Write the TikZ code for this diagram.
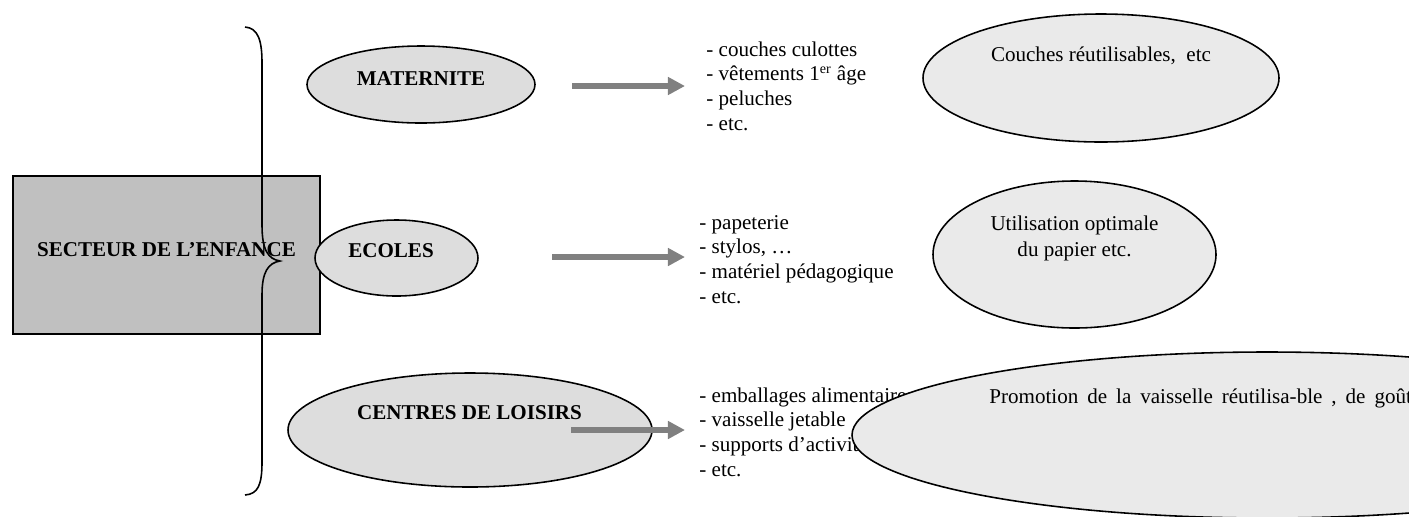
\documentclass[tikz,border=0pt]{standalone}
\usepackage{fontspec}
\setmainfont{Liberation Serif}
\usepackage{tikz}
\usetikzlibrary{positioning,shapes.geometric,arrows.meta}

\definecolor{boxgray}{HTML}{C0C0C0}
\definecolor{grpgray}{HTML}{DDDDDD}
\definecolor{actgray}{HTML}{EAEAEA}
\def\px{0.5695pt} % one pixel of the page

\begin{document}
\begin{tikzpicture}[x=\px,y=-\px,
    secteur/.style={draw,fill=boxgray,line width=0.9pt,inner sep=0pt},
    grp/.style={ellipse,draw,fill=grpgray,line width=0.9pt,inner sep=0pt},
    act/.style={ellipse,draw,fill=actgray,line width=0.9pt,inner sep=0pt},
    lbl/.style={anchor=base,inner sep=0pt,font=\fontsize{12}{14}\selectfont\bfseries},
    item/.style={anchor=base west,inner sep=0pt,font=\fontsize{12}{14}\selectfont},
    note/.style={anchor=base,inner sep=0pt,font=\fontsize{12}{14}\selectfont},
    fatarrow/.style={draw=gray,line width=3.4pt,-{Triangle[length=9.7pt,width=9.7pt]}}]
  \useasboundingbox (0,0) rectangle (1409,516);
  \clip (0,0) rectangle (1409,516);
  % main box
  \node[secteur,minimum width=307*\px,minimum height=158*\px] (sect) at (166.5,255) {};
  \node[lbl] (secttxt) at (166.5,256) {SECTEUR DE L’ENFANCE};
  % the brace
  \draw[line width=0.9pt] (245,27) .. controls (258,28) and (262,40) .. (262,63)
    -- (262,225) .. controls (262,250) and (268,259) .. (280,261)
    .. controls (268,263) and (262,272) .. (262,295)
    -- (262,462) .. controls (262,485) and (258,494) .. (245,495);
  % the three sectors
  \node[grp,minimum width=228*\px,minimum height=77*\px] (mat) at (421,84.5) {};
  \node[grp,minimum width=163*\px,minimum height=76*\px] (eco) at (396.5,258) {};
  \node[grp,minimum width=364*\px,minimum height=114*\px] (loi) at (470,430) {};
  \node[lbl] (mattxt) at (421,85) {MATERNITE};
  \node[lbl] (ecotxt) at (391,257) {ECOLES};
  \node[lbl] (loitxt) at (469.5,419) {CENTRES DE LOISIRS};
  % arrows
  \foreach \k/\xs/\y in {1/572/86, 2/552/257, 3/571/430} {
    \coordinate (s\k) at (\xs,\y);
    \coordinate (e\k) at (685,\y);
    \draw[fatarrow] (s\k) -- (e\k);
  }
  % lists of waste
  \foreach \t [count=\k from 0] in {couches culottes, vêtements 1\textsuperscript{er} âge, peluches, etc.}
    \node[item] (m\k) at (706,56+24.8*\k) {- \t};
  \foreach \t [count=\k from 0] in {papeterie, {stylos, …}, matériel pédagogique, etc.}
    \node[item] (p\k) at (699,229+24.8*\k) {- \t};
  \foreach \t [count=\k from 0] in {emballages alimentaires, vaisselle jetable, supports d’activités, etc.}
    \node[item] (l\k) at (699,402+24.8*\k) {- \t};
  % actions
  \node[act,minimum width=356*\px,minimum height=128*\px] (couch) at (1101,78) {};
  \node[note] (couchtxt) at (1101,61.5) {Couches réutilisables,\ \ etc};
  \node[act,minimum width=283*\px,minimum height=147*\px] (pap) at (1074.5,254.5) {};
  \node[note] (paptxt1) at (1074.5,230.7) {Utilisation optimale};
  \node[note] (paptxt2) at (1074.5,256) {du papier etc.};
  \node[act,minimum width=830*\px,minimum height=166*\px] (vais) at (1267,435) {};
  \node[item] (vaistxt) at (989,403) {\spaceskip=5.1pt Promotion de la vaisselle réutilisa-ble , de goûters};
\end{tikzpicture}
\end{document}
